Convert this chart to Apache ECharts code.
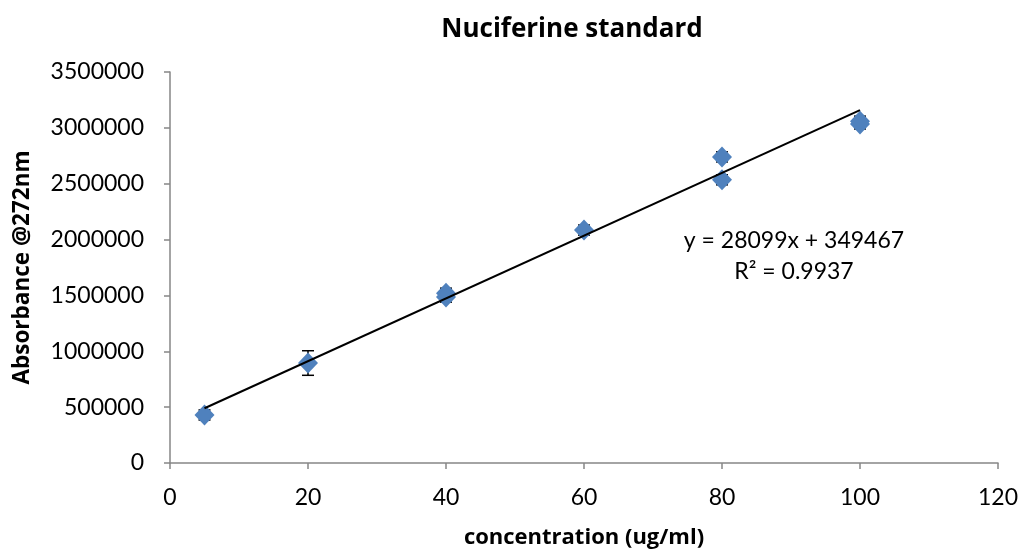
<!DOCTYPE html>
<html>
<head>
<meta charset="utf-8">
<script src="https://cdn.jsdelivr.net/npm/echarts@6/dist/echarts.min.js"></script>
<style>
html,body{margin:0;padding:0;background:#fff;}
#main{width:1024px;height:552px;}
</style>
</head>
<body>
<div id="main"></div>
<script>
// Data
var concentration = [5, 20, 40, 40, 60, 80, 80, 100, 100];
var absorbance = [430000, 895000, 1520000, 1485000, 2085000, 2740000, 2535000, 3060000, 3035000];
var errorValues = [45000, 110000, 45000, 45000, 45000, 45000, 45000, 45000, 45000];
var slope = 28099;
var intercept = 349467;
var rSquared = '0.9937';
var trendRange = [5, 100];
var xTicks = [0, 20, 40, 60, 80, 100, 120];
var yTicks = [0, 500000, 1000000, 1500000, 2000000, 2500000, 3000000, 3500000];

var FONT = 'Lato';
var BOLDFONT = '"Open Sans"';
var points = concentration.map(function (c, i) { return [c, absorbance[i]]; });
var errData = concentration.map(function (c, i) { return [c, absorbance[i] - errorValues[i], absorbance[i] + errorValues[i]]; });
var trend = trendRange.map(function (x) { return [x, slope * x + intercept]; });

var chart = echarts.init(document.getElementById('main'));
chart.setOption({
  animation: false,
  backgroundColor: '#fff',
  title: {
    text: 'Nuciferine standard',
    left: 567, top: 12, textAlign: 'center',
    textStyle: { fontFamily: BOLDFONT, fontSize: 26, fontWeight: 'bold', color: '#000' }
  },
  grid: { left: 170, right: 26, top: 72, bottom: 89, containLabel: false, outerBoundsMode: 'none' },
  xAxis: {
    type: 'value', min: xTicks[0], max: xTicks[xTicks.length - 1], interval: 20,
    name: 'concentration (ug/ml)', nameLocation: 'middle', nameGap: 64, nameMoveOverlap: false,
    nameTextStyle: { fontFamily: BOLDFONT, fontSize: 22, fontWeight: 'bold', color: '#000' },
    axisLine: { lineStyle: { color: '#868686', width: 1.5 } },
    axisTick: { show: true, inside: false, length: 6, lineStyle: { color: '#868686', width: 1.5 } },
    axisLabel: { fontFamily: FONT, fontSize: 23, color: '#000', margin: 23 },
    splitLine: { show: false }
  },
  yAxis: {
    type: 'value', min: yTicks[0], max: yTicks[yTicks.length - 1], interval: 500000,
    name: 'Absorbance @272nm', nameLocation: 'middle', nameGap: 136, nameMoveOverlap: false,
    nameTextStyle: { fontFamily: BOLDFONT, fontSize: 22.5, fontWeight: 'bold', color: '#000' },
    axisLine: { show: true, lineStyle: { color: '#868686', width: 1.5 } },
    axisTick: { show: true, inside: false, length: 6, lineStyle: { color: '#868686', width: 1.5 } },
    axisLabel: { fontFamily: FONT, fontSize: 23, color: '#000', margin: 26, formatter: function (v) { return String(v); } },
    splitLine: { show: false }
  },
  graphic: [
    { type: 'text', x: 794, y: 241, style: { text: 'y = ' + slope + 'x + ' + intercept, fontFamily: FONT, fontSize: 23, fill: '#000', textAlign: 'center', textVerticalAlign: 'middle' } },
    { type: 'text', x: 794, y: 272, style: { text: 'R\u00b2 = ' + rSquared, fontFamily: FONT, fontSize: 23, fill: '#000', textAlign: 'center', textVerticalAlign: 'middle' } }
  ],
  series: [
    {
      type: 'custom', z: 1, silent: true,
      data: errData,
      renderItem: function (params, api) {
        var x = api.value(0);
        var lo = api.coord([x, api.value(1)]);
        var hi = api.coord([x, api.value(2)]);
        var w = 6;
        var st = { stroke: '#000', lineWidth: 1.5 };
        return { type: 'group', children: [
          { type: 'line', shape: { x1: lo[0], y1: lo[1], x2: hi[0], y2: hi[1] }, style: st },
          { type: 'line', shape: { x1: lo[0] - w, y1: lo[1], x2: lo[0] + w, y2: lo[1] }, style: st },
          { type: 'line', shape: { x1: hi[0] - w, y1: hi[1], x2: hi[0] + w, y2: hi[1] }, style: st }
        ] };
      }
    },
    {
      type: 'scatter', z: 2, data: points,
      symbol: 'diamond', symbolSize: [20, 21],
      itemStyle: { color: '#4F81BD', opacity: 1 }
    },
    {
      type: 'line', z: 3, data: trend, symbol: 'none',
      lineStyle: { color: '#000', width: 2 }
    }
  ]
});
</script>
</body>
</html>
